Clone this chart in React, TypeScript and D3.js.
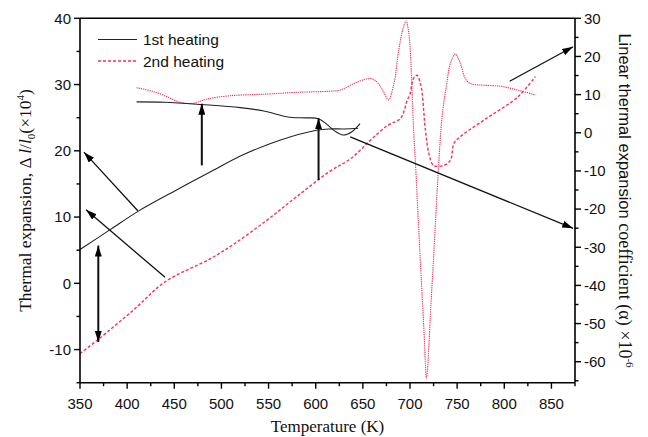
import React from "react";
import * as d3 from "d3";

// ---- Data ----
// 1st heating, thermal expansion (left axis, ×10^4)
const tempExp1 = [350, 382, 412, 450, 488, 523, 562, 601, 615, 630, 645];
const exp1 = [5.1, 8.1, 10.9, 13.9, 16.8, 19.4, 21.6, 23.1, 23.3, 23.3, 23.4];

// 1st heating, linear thermal expansion coefficient (right axis, ×10^-6)
const tempCte1 = [410, 440, 479, 520, 545, 565, 575, 590, 603, 612, 620, 629, 638, 647];
const cte1 = [8.1, 8.0, 7.4, 6.6, 5.7, 4.4, 4.0, 3.9, 3.7, 2.2, 0.5, -0.6, 0.2, 2.4];

// 2nd heating, thermal expansion (left axis)
const tempExp2 = [350, 369, 407, 440, 488, 513, 548, 580, 615, 637, 658, 676, 690, 697, 700, 704, 707.4, 711, 713, 714.5, 716, 720, 725, 736, 743, 746.5, 753, 778, 814, 833];
const exp2 = [-10.6, -8.5, -4.0, 0.2, 3.7, 5.9, 9.5, 13.1, 16.9, 18.8, 21.6, 23.8, 24.9, 27.6, 28.6, 31.0, 31.4, 30.2, 28.6, 26.1, 23.6, 19.6, 17.8, 17.8, 18.6, 21.1, 22.1, 24.6, 28.1, 31.2];

// 2nd heating, linear thermal expansion coefficient (right axis)
const tempCte2 = [410, 425, 438, 456, 470, 484, 509, 545, 580, 615, 626, 644, 658, 665, 672, 677, 683, 688, 693, 696, 698.5, 700.3, 702, 703.8, 705.6, 709, 712, 715, 716.3, 717.3, 718.4, 720, 722, 725, 727.5, 729.8, 732, 734, 736.5, 739, 742.8, 748, 753.4, 758.7, 764, 775, 796, 814, 833];
const cte2 = [11.8, 11.0, 9.9, 8.0, 7.7, 8.8, 9.7, 10.1, 10.6, 10.9, 11.2, 13.3, 14.2, 13.3, 10.7, 8.6, 12.9, 21.6, 27.7, 29.3, 26.5, 21.6, 12, 1, -7, -24, -38.5, -53, -60.5, -64.3, -62.5, -56, -46, -33, -21, -11, -2, 4.2, 9, 12.9, 18.2, 20.6, 18.2, 14.2, 12.9, 12.5, 12.2, 11.2, 9.9];

// Axis ticks
const xMajor = [350, 400, 450, 500, 550, 600, 650, 700, 750, 800, 850];
const xMinor = [375, 425, 475, 525, 575, 625, 675, 725, 775, 825, 875];
const yLMajor = [-10, 0, 10, 20, 30, 40];
const yLMinor = [-15, -5, 5, 15, 25, 35];
const yRMajor = [-60, -50, -40, -30, -20, -10, 0, 10, 20, 30];
const yRMinor = [-65, -55, -45, -35, -25, -15, -5, 5, 15, 25];

// Legend
const seriesNames = ["1st heating", "2nd heating"];

// Annotation arrows, in data units (temperature, left-axis value)
const arrowFromT = [479.2, 603, 411.3, 440.2, 369.4, 636.6, 805.7];
const arrowFromV = [17.8, 15.6, 10.95, 0.9, 5.7, 22.1, 30.5];
const arrowToT = [479.2, 603, 354.2, 356.4, 369.4, 873, 873];
const arrowToV = [27.1, 24.9, 19.8, 11.1, -8.85, 8.3, 35.7];
const arrowDouble = [false, false, false, false, true, false, false];

// ---- Layout ----
const W = 648;
const H = 437;
const X0 = 80;
const X1 = 575;
const Y0 = 18.3;
const Y1 = 382.7;
const RED = "#ff2d55";
const SANS = "'Liberation Sans', Arial, sans-serif";
const SERIF = "'Liberation Serif', 'Times New Roman', serif";

export default function App() {
  const x = d3.scaleLinear().domain([350, 875]).range([X0, X1]);
  const yL = d3.scaleLinear().domain([-15, 40]).range([Y1, Y0]);
  const yR = d3.scaleLinear().domain([-65.5, 30]).range([Y1, Y0]);

  const mk = (ys: d3.ScaleLinear<number, number>) =>
    d3
      .line<[number, number]>()
      .x((d) => x(d[0]))
      .y((d) => ys(d[1]))
      .curve(d3.curveCatmullRom.alpha(0.5));

  const zip = (a: number[], b: number[]) => a.map((t, i) => [t, b[i]] as [number, number]);

  const pExp1 = mk(yL)(zip(tempExp1, exp1)) || "";
  const pCte1 = mk(yR)(zip(tempCte1, cte1)) || "";
  const pExp2 = mk(yL)(zip(tempExp2, exp2)) || "";
  const pCte2 = mk(yR)(zip(tempCte2, cte2)) || "";

  const major = 6;
  const minor = 3.5;

  return (
    <svg
      width={W}
      height={H}
      viewBox={`0 0 ${W} ${H}`}
      style={{ position: "absolute", left: 0, top: 0, background: "#fff" }}
    >
      <defs>
        <clipPath id="plot">
          <rect x={X0} y={Y0 - 1} width={X1 - X0} height={Y1 - Y0 + 1} />
        </clipPath>
        <marker id="ah" viewBox="0 0 11 7" refX="11" refY="3.5" markerWidth="11" markerHeight="7" markerUnits="userSpaceOnUse" orient="auto-start-reverse">
          <path d="M0,0 L11,3.5 L0,7 Z" fill="#000" />
        </marker>
      </defs>

      {/* curves */}
      <g clipPath="url(#plot)" fill="none">
        <path d={pCte2} stroke={RED} strokeWidth={1.1} strokeDasharray="1.3,0.9" />
        <path d={pExp2} stroke={RED} strokeWidth={1.4} strokeDasharray="3,2" />
        <path d={pExp1} stroke="#222" strokeWidth={1.1} />
        <path d={pCte1} stroke="#222" strokeWidth={1.1} />
      </g>

      {/* arrows */}
      <g stroke="#111" fill="none">
        {arrowFromT.map((t, i) => (
          <line
            key={i}
            x1={x(t)}
            y1={yL(arrowFromV[i])}
            x2={x(arrowToT[i])}
            y2={yL(arrowToV[i])}
            strokeWidth={i < 2 || i === 4 ? 2 : 1.3}
            markerEnd="url(#ah)"
            markerStart={arrowDouble[i] ? "url(#ah)" : undefined}
          />
        ))}
      </g>

      {/* frame */}
      <g stroke="#000" strokeWidth={1.6} fill="none">
        <line x1={X0} y1={Y0} x2={X1} y2={Y0} />
        <line x1={X0} y1={Y1} x2={X1} y2={Y1} />
        <line x1={X0} y1={Y0} x2={X0} y2={Y1} />
        <line x1={X1} y1={Y0} x2={X1} y2={Y1} />
      </g>

      {/* ticks */}
      <g stroke="#000" strokeWidth={1.4}>
        {xMajor.map((t) => (
          <line key={"xM" + t} x1={x(t)} x2={x(t)} y1={Y1} y2={Y1 + major} />
        ))}
        {xMinor.map((t) => (
          <line key={"xm" + t} x1={x(t)} x2={x(t)} y1={Y1} y2={Y1 + minor} />
        ))}
        {yLMajor.map((v) => (
          <line key={"lM" + v} x1={X0 - major} x2={X0} y1={yL(v)} y2={yL(v)} />
        ))}
        {yLMinor.map((v) => (
          <line key={"lm" + v} x1={X0 - minor} x2={X0} y1={yL(v)} y2={yL(v)} />
        ))}
        {yRMajor.map((v) => (
          <line key={"rM" + v} x1={X1} x2={X1 + major} y1={yR(v)} y2={yR(v)} />
        ))}
        {yRMinor.map((v) => (
          <line key={"rm" + v} x1={X1} x2={X1 + minor} y1={yR(v)} y2={yR(v)} />
        ))}
      </g>

      {/* tick labels */}
      <g fontFamily={SANS} fontSize={15} fill="#111">
        {xMajor.map((t) => (
          <text key={"xl" + t} x={x(t)} y={Y1 + 26} textAnchor="middle">
            {t}
          </text>
        ))}
        {yLMajor.map((v) => (
          <text key={"ll" + v} x={X0 - 9} y={yL(v) + 5.3} textAnchor="end">
            {v}
          </text>
        ))}
        {yRMajor.map((v) => (
          <text key={"rl" + v} x={X1 + 9} y={yR(v) + 5.3} textAnchor="start">
            {v}
          </text>
        ))}
      </g>

      {/* axis titles */}
      <text x={(X0 + X1) / 2} y={432} textAnchor="middle" fontFamily={SERIF} fontSize={17} fill="#111">
        Temperature (K)
      </text>
      <text
        transform={`translate(31, ${(Y0 + Y1) / 2}) rotate(-90)`}
        textAnchor="middle"
        fontFamily={SERIF}
        fontSize={17.5}
        fill="#111"
      >
        Thermal expansion, Δ <tspan fontStyle="italic">l</tspan>/<tspan fontStyle="italic">l</tspan>
        <tspan fontSize={11} dy={4}>0</tspan>
        <tspan dy={-4}>(×10</tspan>
        <tspan fontSize={11} dy={-7}>4</tspan>
        <tspan dy={7}>)</tspan>
      </text>
      <text
        transform={`translate(619, ${(Y0 + Y1) / 2}) rotate(90)`}
        textAnchor="middle"
        fill="#111"
      >
        <tspan fontFamily={SANS} fontSize={16.5}>Linear thermal expansion</tspan>
        <tspan fontFamily={SERIF} fontSize={18}> coefficient (α) ×10</tspan>
        <tspan fontFamily={SERIF} fontSize={11} dy={-7}>-6</tspan>
      </text>

      {/* legend */}
      <g>
        <line x1={98} x2={137} y1={39.5} y2={39.5} stroke="#222" strokeWidth={1.1} />
        <line x1={98} x2={137} y1={61} y2={61} stroke={RED} strokeWidth={1.4} strokeDasharray="3,2" />
        <text x={143} y={45} fontFamily={SANS} fontSize={15.5} fill="#111">
          {seriesNames[0]}
        </text>
        <text x={143} y={66.5} fontFamily={SANS} fontSize={15.5} fill="#111">
          {seriesNames[1]}
        </text>
      </g>
    </svg>
  );
}
